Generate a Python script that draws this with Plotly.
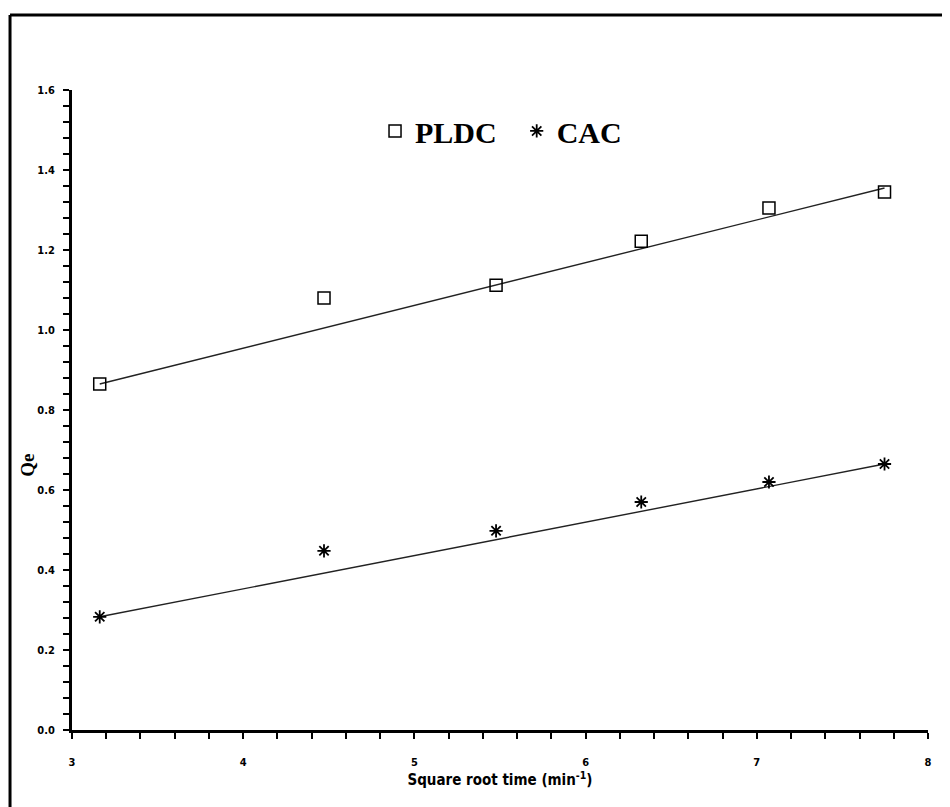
import plotly.graph_objects as go

# Data
sqrt_time = [3.162, 4.472, 5.477, 6.325, 7.071, 7.746]
pldc_qe = [0.865, 1.080, 1.112, 1.222, 1.305, 1.345]
cac_qe = [0.283, 0.448, 0.498, 0.570, 0.620, 0.665]

fit_x = [3.162, 7.746]
pldc_fit = [0.865, 1.355]
cac_fit = [0.283, 0.665]

x_ticks = [3, 4, 5, 6, 7, 8]
y_ticks = [0.0, 0.2, 0.4, 0.6, 0.8, 1.0, 1.2, 1.4, 1.6]

narrow = "Liberation Sans Narrow, DejaVu Sans Condensed, sans-serif"
tick_font = dict(family=narrow, size=11, color="black", weight="bold")

fig = go.Figure()
fig.add_trace(go.Scatter(x=fit_x, y=pldc_fit, mode="lines", line=dict(color="#222", width=1.4),
                         showlegend=False, hoverinfo="skip"))
fig.add_trace(go.Scatter(x=fit_x, y=cac_fit, mode="lines", line=dict(color="#222", width=1.4),
                         showlegend=False, hoverinfo="skip"))
fig.add_trace(go.Scatter(x=sqrt_time, y=pldc_qe, mode="markers", name="PLDC\u00a0\u00a0",
                         marker=dict(symbol="square-open", size=12, color="black", line=dict(width=1.5, color="black"))))
fig.add_trace(go.Scatter(x=sqrt_time, y=cac_qe, mode="markers", name="CAC",
                         marker=dict(symbol="asterisk-open", size=11, color="black", line=dict(width=1.8, color="black"))))

fig.update_layout(
    width=950, height=807,
    margin=dict(l=64, r=30, t=82, b=85),
    plot_bgcolor="white", paper_bgcolor="white",
    legend=dict(orientation="h", x=0.354, y=0.936, xanchor="left", yanchor="middle",
                font=dict(family="Liberation Serif, serif", size=30, color="black", weight="bold"),
                bgcolor="rgba(0,0,0,0)", itemwidth=30, tracegroupgap=0),
    xaxis=dict(range=[3, 8], tickvals=x_ticks, ticktext=[str(v) for v in x_ticks],
               showline=True, linecolor="black", linewidth=3, mirror=False,
               ticks="outside", ticklen=6, tickwidth=2, tickcolor="black",
               minor=dict(dtick=0.2, ticks="outside", ticklen=6, tickwidth=2, tickcolor="black", showgrid=False),
               showgrid=False, zeroline=False, tickfont=tick_font, ticklabelstandoff=14,
               title=dict(text="<b>Square root time (min<sup>-1</sup>)</b>",
                          font=dict(family=narrow, size=15, color="black"),
                          standoff=6)),
    yaxis=dict(range=[0, 1.6], tickvals=y_ticks, ticktext=[f"{v:.1f}" for v in y_ticks],
               showline=True, linecolor="black", linewidth=3, mirror=False,
               ticks="outside", ticklen=6, tickwidth=2, tickcolor="black",
               minor=dict(dtick=0.04, ticks="outside", ticklen=6, tickwidth=2, tickcolor="black", showgrid=False),
               showgrid=False, zeroline=False, tickfont=tick_font, ticklabelstandoff=6),
    annotations=[
        dict(text="<b>Qe</b>", xref="paper", yref="paper", x=-0.053, y=0.414,
             xanchor="center", yanchor="middle", textangle=-90, showarrow=False,
             font=dict(family="Liberation Serif, serif", size=19, color="black")),
    ],
    shapes=[
        dict(type="line", xref="paper", yref="paper", x0=-0.0724, x1=1.05, y0=1.117, y1=1.117,
             line=dict(color="black", width=3)),
        dict(type="line", xref="paper", yref="paper", x0=-0.0724, x1=-0.0724, y0=1.117, y1=-0.15,
             line=dict(color="black", width=3)),
    ],
)

fig.write_html("out.html")
